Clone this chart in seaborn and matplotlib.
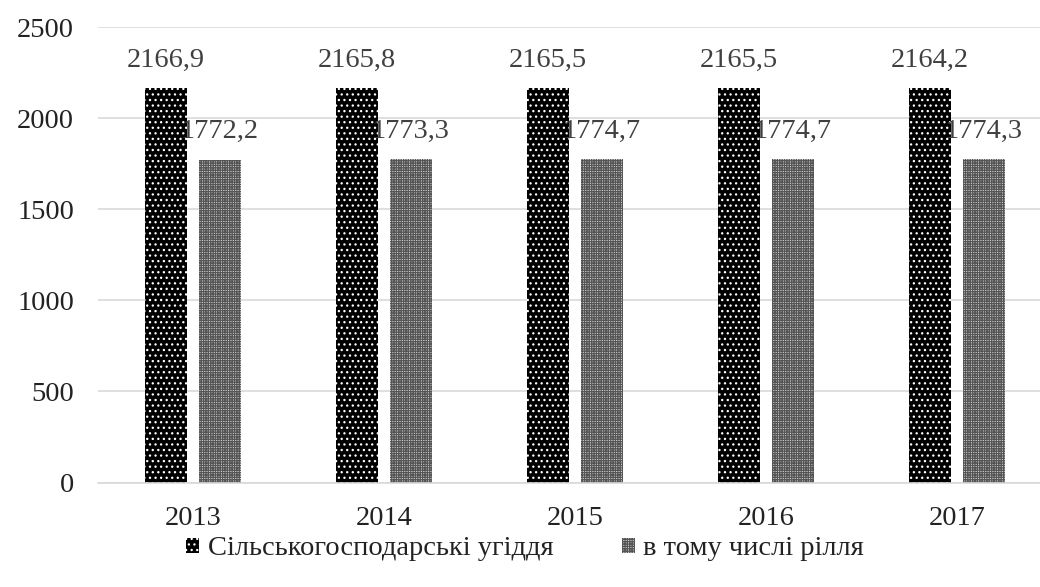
import numpy as np
import pandas as pd
import matplotlib
matplotlib.use("Agg")
import matplotlib.pyplot as plt
from matplotlib import font_manager as fm
import seaborn as sns

# Data
years = ["2013", "2014", "2015", "2016", "2017"]
agri_land = [2166.9, 2165.8, 2165.5, 2165.5, 2164.2]
arable = [1772.2, 1773.3, 1774.7, 1774.7, 1774.3]
series_names = ["Сільськогосподарські угіддя", "в тому числі рілля"]

df = pd.DataFrame({
    "year": years * 2,
    "value": agri_land + arable,
    "series": [series_names[0]] * len(years) + [series_names[1]] * len(years),
})

sns.set_style("white")
plt.rcParams["font.family"] = ["Liberation Serif", "DejaVu Serif"]
plt.rcParams["hatch.linewidth"] = 0.9
FS = 20.5
serif_prop = fm.FontProperties(fname=fm.findfont("Liberation Serif"), size=FS)

fig = plt.figure(figsize=(10.4, 5.87), dpi=100)
# plot area runs slightly past the right edge, like the original
ax = fig.add_axes([0.0938, 0.178, 0.918, 0.776])

sns.barplot(data=df, x="year", y="value", hue="series",
            palette=["black", "#d6d6d6"], width=0.565, gap=0.22,
            legend=True, ax=ax)

# pattern fills like the original (dots on black, fine checker on grey)
styles = [("black", "white", "..."), ("#d6d6d6", "#555555", "+++++++")]
for cont, (fc, hc, hatch) in zip(ax.containers, styles):
    for bar in cont:
        bar.set_facecolor(fc)
        bar.set_edgecolor(hc)
        bar.set_hatch(hatch)
        bar.set_linewidth(0)
    labels = [f"{v:.1f}".replace(".", ",") for v in cont.datavalues]
    ax.bar_label(cont, labels=labels, padding=11, fontsize=FS, color="#404040")

ax.set_ylim(0, 2500)
ax.set_yticks([0, 500, 1000, 1500, 2000, 2500])
ax.yaxis.grid(True, color="#d9d9d9", linewidth=1.2)
ax.set_axisbelow(True)
for s in ["top", "right", "left"]:
    ax.spines[s].set_visible(False)
ax.spines["bottom"].set_color("#d9d9d9")
ax.spines["bottom"].set_linewidth(1.2)
ax.tick_params(axis="both", length=0, labelsize=FS, colors="#222222")
ax.tick_params(axis="y", pad=17)
ax.tick_params(axis="x", pad=17)
ax.set_xlabel("")
ax.set_ylabel("")

handles, lbls = ax.get_legend_handles_labels()
ax.get_legend().remove()
for h, (fc, hc, hatch) in zip(handles, styles):
    h.set_facecolor(fc)
    h.set_edgecolor(hc)
    h.set_hatch(hatch)
    h.set_linewidth(0)
leg = fig.legend(handles, lbls, loc="lower center", ncol=2, frameon=False,
                 prop=serif_prop, handlelength=0.45, handleheight=0.45,
                 handletextpad=0.3, columnspacing=2.4,
                 bbox_to_anchor=(0.505, 0.0))
for t in leg.get_texts():
    t.set_color("#222222")

fig.savefig("out.png", dpi=100)
